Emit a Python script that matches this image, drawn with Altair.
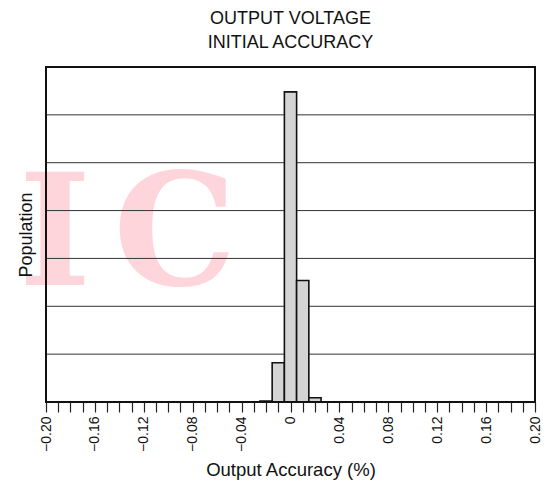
import altair as alt
import pandas as pd

# Histogram bins (Output Accuracy, %) and population heights (arbitrary units, grid = 1)
bin_start = [-0.025, -0.015, -0.005, 0.005, 0.015]
bin_end = [-0.015, -0.005, 0.005, 0.015, 0.025]
population = [0.02, 0.82, 6.48, 2.54, 0.09]

grid_levels = [1, 2, 3, 4, 5, 6]
x_ticks = [-0.20, -0.19, -0.18, -0.17, -0.16, -0.15, -0.14, -0.13, -0.12, -0.11,
           -0.10, -0.09, -0.08, -0.07, -0.06, -0.05, -0.04, -0.03, -0.02, -0.01,
           0.0, 0.01, 0.02, 0.03, 0.04, 0.05, 0.06, 0.07, 0.08, 0.09,
           0.10, 0.11, 0.12, 0.13, 0.14, 0.15, 0.16, 0.17, 0.18, 0.19, 0.20]
title_lines = ["OUTPUT VOLTAGE", "INITIAL ACCURACY"]
watermark = ["I", "C"]

FONT = "Liberation Sans"
W, H = 489, 335

bars_df = pd.DataFrame({"start": bin_start, "end": bin_end, "pop": population})
grid_df = pd.DataFrame({"level": grid_levels})

xscale = alt.Scale(domain=[-0.2, 0.2], nice=False, zero=False)
yscale = alt.Scale(domain=[0, 7], nice=False, zero=True)

label_expr = ("abs(round(datum.value*100)) % 4 == 0 ? "
              "(round(datum.value*100) == 0 ? '0' : format(datum.value, '.2f')) : ''")

x_axis = alt.Axis(values=x_ticks, labelExpr=label_expr, labelAngle=270,
                  labelOverlap=False, labelFlush=False, grid=False,
                  domain=False, tickSize=10, tickColor="#222222",
                  tickWidth=1.2, labelFontSize=14, labelPadding=4,
                  labelColor="#111111", titleFontSize=18.5,
                  titleFontWeight="normal", titleColor="#111111",
                  titlePadding=9, zindex=1)
y_axis = alt.Axis(labels=False, ticks=False, domain=False, grid=False,
                  titleFontSize=18, titleFontWeight="normal",
                  titleColor="#111111", titlePadding=11, zindex=1)
X_TITLE = "Output Accuracy (%)"
Y_TITLE = "Population"

wm_I = alt.Chart(pd.DataFrame({"t": [watermark[0]]})).mark_text(
    font="DejaVu Serif", fontWeight="bold", fontSize=155, color="#ffd5dc",
    align="center", baseline="alphabetic"
).encode(text="t:N", x=alt.value(9), y=alt.value(218))

wm_C = alt.Chart(pd.DataFrame({"t": [watermark[1]]})).mark_text(
    font="DejaVu Serif", fontWeight="bold", fontSize=155, color="#ffd5dc",
    align="center", baseline="alphabetic"
).encode(text="t:N", x=alt.value(129), y=alt.value(218))

grid = alt.Chart(grid_df).mark_rule(color="#333333", strokeWidth=1).encode(
    y=alt.Y("level:Q", scale=yscale, title=Y_TITLE, axis=y_axis)
)

bars = alt.Chart(bars_df).mark_rect(
    fill="#d4d4d4", stroke="#111111", strokeWidth=1.6
).encode(
    x=alt.X("start:Q", scale=xscale, title=X_TITLE, axis=x_axis),
    x2="end:Q",
    y=alt.Y("pop:Q", scale=yscale, title=Y_TITLE, axis=y_axis),
    y2=alt.Y2(datum=0),
)

frame = alt.Chart(pd.DataFrame({"a": [0]})).mark_rect(
    fill="white", fillOpacity=0, stroke="#111111", strokeWidth=2
).encode(
    x=alt.X(datum=-0.2, scale=xscale, title=X_TITLE, axis=x_axis),
    x2=alt.X2(datum=0.2),
    y=alt.Y(datum=0, scale=yscale, title=Y_TITLE, axis=y_axis),
    y2=alt.Y2(datum=7),
)

chart = alt.layer(wm_I, wm_C, grid, bars, frame).properties(
    width=W, height=H,
    title=alt.TitleParams(text=title_lines, font=FONT, fontSize=18,
                          fontWeight="normal", color="#111111", anchor="middle",
                          lineHeight=24, offset=14),
    autosize="none",
    padding={"left": 38, "top": 59, "right": 6, "bottom": 80},
).configure_view(stroke=None).configure_axis(
    labelFont=FONT, titleFont=FONT
).configure(background="white")

chart.save("out.html", embed_options={"renderer": "svg", "actions": False})
